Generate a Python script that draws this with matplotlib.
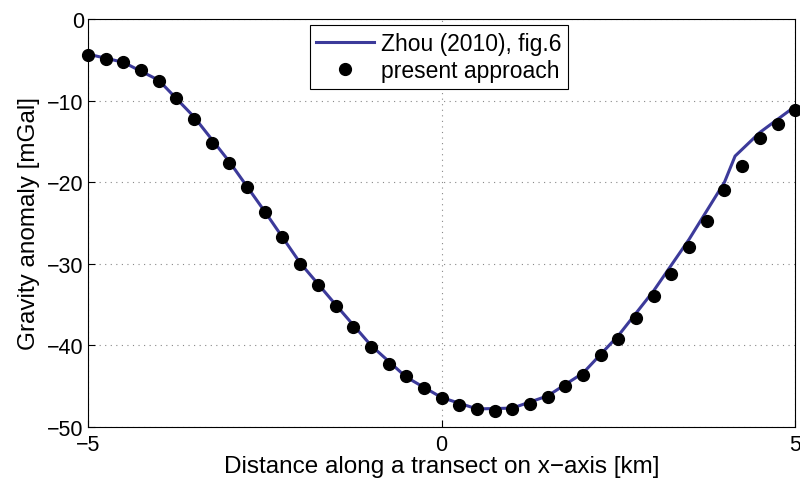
import numpy as np
import matplotlib.pyplot as plt

plt.rcParams['font.family'] = ['Liberation Sans', 'DejaVu Sans']

# present approach (dots), every 0.25 km
x_pts = np.arange(-5, 5.01, 0.25)
g_pts = [-4.4, -4.9, -5.3, -6.2, -7.6, -9.7, -12.2, -15.2, -17.6, -20.6,
         -23.7, -26.7, -30.0, -32.6, -35.2, -37.8, -40.2, -42.3, -43.8, -45.2,
         -46.5, -47.3, -47.8, -48.0, -47.8, -47.2, -46.3, -45.0, -43.6, -41.2,
         -39.2, -36.7, -34.0, -31.3, -27.9, -24.7, -21.0, -18.0, -14.6, -12.9,
         -11.1]

x_zhou = [-5, -4.5, -4, -3.5, -3, -2.5, -2, -1.5, -1, -0.5, 0, 0.5, 1,
          1.5, 2, 2.5, 3, 3.5, 4, 4.15, 4.5, 5]
g_zhou = [-4.3, -5.3, -7.5, -12.0, -17.5, -23.6, -29.9, -35.0, -40.0, -43.9,
          -46.4, -47.8, -47.7, -46.2, -43.4, -38.8, -33.3, -27.0, -20.0,
          -16.8, -13.9, -10.7]

fig = plt.figure(figsize=(8, 4.89), dpi=100)
ax = fig.add_axes([0.11, 0.125, 0.884, 0.834])

ax.plot(x_zhou, g_zhou, '-', color='#3c3a9a', lw=2.2, label='Zhou (2010), fig.6')
ax.plot(x_pts, g_pts, 'o', color='black', ms=8.5, label='present approach',
        clip_on=False)

ax.set_xlim(-5, 5)
ax.set_ylim(-50, 0)
ax.set_xticks([-5, 0, 5])
ax.set_yticks([-50, -40, -30, -20, -10, 0])
ax.tick_params(direction='in', labelsize=15.5, length=5)
ax.tick_params(axis='x', pad=5)
ax.tick_params(axis='y', pad=3)
ax.grid(True, linestyle=(0, (1, 4)), color='#888888', lw=0.8)
ax.set_xlabel('Distance along a transect on x\u2212axis [km]', fontsize=17.5,
              labelpad=0)
ax.set_ylabel('Gravity anomaly [mGal]', fontsize=17.5, labelpad=5)

leg = ax.legend(loc='upper center', fontsize=16.5, fancybox=False,
                edgecolor='black', framealpha=1, borderaxespad=0.25,
                handlelength=2.5, borderpad=0.3, labelspacing=0.2,
                handletextpad=0.3, bbox_to_anchor=(0.496, 1.0))
leg.get_frame().set_linewidth(0.8)

fig.savefig('out.png', dpi=100)
